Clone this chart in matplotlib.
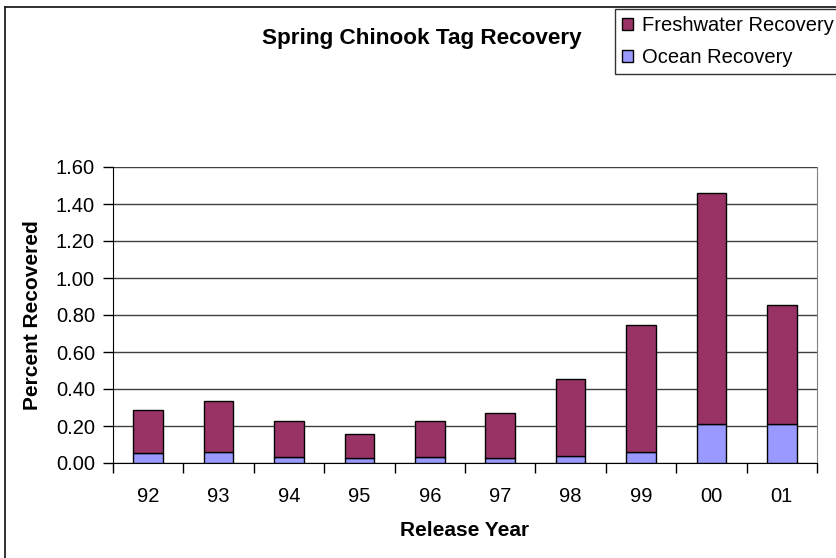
import numpy as np
import matplotlib
matplotlib.use('Agg')
import matplotlib.pyplot as plt
from matplotlib.lines import Line2D

plt.rcParams['font.family'] = ['Liberation Sans', 'DejaVu Sans']

### data
years = ['92', '93', '94', '95', '96', '97', '98', '99', '00', '01']
ocean = [0.052, 0.061, 0.031, 0.025, 0.031, 0.025, 0.040, 0.059, 0.210, 0.210]
freshwater = [0.234, 0.272, 0.196, 0.134, 0.196, 0.247, 0.414, 0.689, 1.250, 0.642]

W, H = 836, 558
fig = plt.figure(figsize=(W / 100, H / 100), dpi=100)
ax = fig.add_axes([113 / W, 95 / H, 704 / W, 296 / H])

x = np.arange(len(years))
ax.bar(x, ocean, width=0.42, color='#9999FF', edgecolor='black', linewidth=1,
       label='Ocean Recovery', zorder=3)
ax.bar(x, freshwater, width=0.42, bottom=ocean, color='#993366', edgecolor='black',
       linewidth=1, label='Freshwater Recovery', zorder=3)

ax.set_xlim(-0.5, len(years) - 0.5)
ax.set_ylim(0, 1.6)
ax.set_yticks(np.arange(0, 1.61, 0.2))
ax.set_yticklabels(['%.2f' % v for v in np.arange(0, 1.61, 0.2)], fontsize=14.5)
ax.yaxis.grid(True, color='#404040', linewidth=1)
ax.set_axisbelow(True)

# ticks between the categories, labels in the middle
ax.set_xticks(np.arange(-0.5, len(years), 1.0))
ax.set_xticklabels([])
ax.set_xticks(x, minor=True)
ax.set_xticklabels(years, minor=True, fontsize=14.5)
ax.tick_params(axis='x', which='minor', length=0, pad=17)
ax.tick_params(axis='x', which='major', length=7, width=1, direction='out')
ax.tick_params(axis='y', length=7, width=1, direction='out', pad=6)

ax.spines['top'].set_visible(False)
ax.spines['right'].set_color('#808080')
ax.spines['left'].set_color('black')
ax.spines['bottom'].set_color('black')

ax.set_xlabel('Release Year', fontsize=15, fontweight='bold', labelpad=11)
ax.set_ylabel('Percent Recovered', fontsize=15, fontweight='bold', labelpad=10)

fig.text(422 / W, 1 - 38.5 / H, 'Spring Chinook Tag Recovery', fontsize=16.2,
         fontweight='bold', ha='center', va='center')

# chart border (only top and left show in the picture)
fig.add_artist(Line2D([4.7 / W, 4.7 / W], [0, 1 - 6.5 / H], color='#202020', lw=1.3))
fig.add_artist(Line2D([4.7 / W, 1], [1 - 6.5 / H, 1 - 6.5 / H], color='#202020', lw=1.3))

h, l = ax.get_legend_handles_labels()
leg = fig.legend(h[::-1], l[::-1], loc='upper left', bbox_to_anchor=(615 / W, 1 - 9 / H),
                 fontsize=14.5, frameon=True, fancybox=False, shadow=False,
                 handlelength=0.55, handleheight=0.55, handletextpad=0.45,
                 labelspacing=0.65, borderpad=0.35, borderaxespad=0)
leg.get_frame().set_edgecolor('black')
leg.get_frame().set_linewidth(1)

fig.savefig('out.png', dpi=100)
